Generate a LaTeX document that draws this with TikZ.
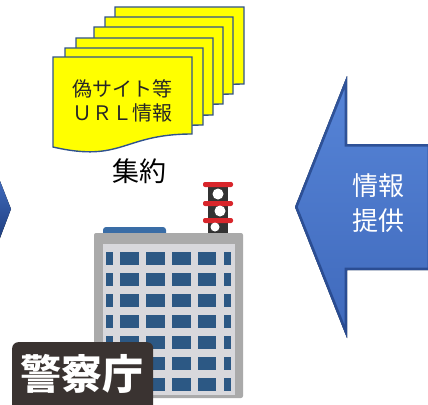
\documentclass[tikz,border=0pt]{standalone}
\usepackage{fontspec}
\newfontfamily\jpfont{Noto Sans CJK JP}
\definecolor{docyellow}{HTML}{FFFF00}
\definecolor{docblue}{HTML}{2F528F}
\definecolor{arrowtop}{HTML}{5785D8}
\definecolor{arrowbot}{HTML}{3F69BB}
\definecolor{arrowrim}{HTML}{203F80}
\definecolor{bldgray}{HTML}{AAAAAA}
\definecolor{bldlight}{HTML}{D8D8DC}
\definecolor{winblue}{HTML}{2C5884}
\definecolor{roofblue}{HTML}{3A6DA6}
\definecolor{towerdark}{HTML}{333333}
\definecolor{towerred}{HTML}{D8262B}
\definecolor{labelbg}{HTML}{3A3331}

\begin{document}
\begin{tikzpicture}[
        x=1pt, y=-1pt,
        doc/.style={
            draw=docblue,
            line width=1.4pt,
            fill=docyellow,
            line join=miter
        },
        bigarrow/.style={
            top color=arrowtop,
            bottom color=arrowbot
        },
        rim/.style={draw=arrowrim, line width=5pt, opacity=0.7},
        win/.style={fill=winblue},
        redbar/.style={fill=towerred, rounded corners=2pt},
        jptext/.style={font=\jpfont\fontsize{20}{24}\selectfont, text=black!85, align=center, inner sep=0pt}
    ]

    \useasboundingbox (0,0) rectangle (428,404);
    \clip (0,0) rectangle (428,404);

    % stack of collected documents, back to front
    \foreach \l/\t/\r in {115/7/244, 105/17/233, 94/27/223, 76/38/213, 65/48/203, 53/57/192} {
        \pgfmathsetmacro\m{(\l+\r)/2}
        \draw[doc] (\l,\t) -- (\r,\t) -- (\r,\t+77)
            .. controls (\m,\t+77) and (\m,\t+106) .. (\l,\t+90) -- cycle;
    }
    \node[jptext] (sitelist) at (122,101) {偽サイト等\\ＵＲＬ情報};
    \node[jptext, font=\jpfont\fontsize{27}{30}\selectfont, text=black] (collect) at (139,171) {集約};

    % arrow coming in from the left edge
    \coordinate (ltop) at (0,181);
    \coordinate (ltip) at (11,209);
    \coordinate (lbot) at (0,238);
    \fill[bigarrow, top color=arrowbot, bottom color=arrowrim] (ltop) -- (ltip) -- (lbot) -- cycle;

    % information arrow on the right
    \coordinate (tip) at (295,207);
    \coordinate (htop) at (347,76);
    \coordinate (stop) at (347,144);
    \coordinate (send) at (430,144);
    \coordinate (sbend) at (430,270);
    \coordinate (sbot) at (347,270);
    \coordinate (hbot) at (347,338);
    \fill[bigarrow] (tip) -- (htop) -- (stop) -- (send) -- (sbend) -- (sbot) -- (hbot) -- cycle;
    \begin{scope}
        \clip (tip) -- (htop) -- (stop) -- (send) -- (sbend) -- (sbot) -- (hbot) -- cycle;
        \draw[rim] (tip) -- (htop) -- (stop) -- (send) -- (sbend) -- (sbot) -- (hbot) -- cycle;
    \end{scope}
    \node[jptext, font=\jpfont\fontsize{26}{35}\selectfont, text=white] (provide) at (378,203) {情報\\提供};

    % police building
    \fill[roofblue, rounded corners=3pt] (103,227) rectangle (166,236);
    \fill[towerdark] (208,185) rectangle (228,234);
    \foreach \y in {182,201,218} {
        \fill[redbar] (203,\y) rectangle (233,\y+5);
    }
    \fill[white] (218,194) circle (5.5);
    \fill[white] (220,211) circle (5.5);
    \fill[white] (215,227) circle (4.5);
    \fill[bldgray, rounded corners=2pt] (94,233) rectangle (243,398);
    \fill[bldlight] (103,244) rectangle (235,395);
    \foreach \row in {0,...,6} {
        \foreach \xa/\xb in {106/113, 120/139, 146/165, 172/191, 198/216, 224/231} {
            \fill[win] (\xa,252+21*\row) rectangle (\xb,265+21*\row);
        }
    }

    \node[fill=labelbg, rounded corners=6pt, minimum width=141pt, minimum height=72pt,
          anchor=north west, inner sep=0pt] (label) at (12,342) {};
    \node[font=\jpfont\bfseries\fontsize{41}{41}\selectfont, text=white, inner sep=0pt] (agency) at (82,374) {警察庁};

\end{tikzpicture}
\end{document}
